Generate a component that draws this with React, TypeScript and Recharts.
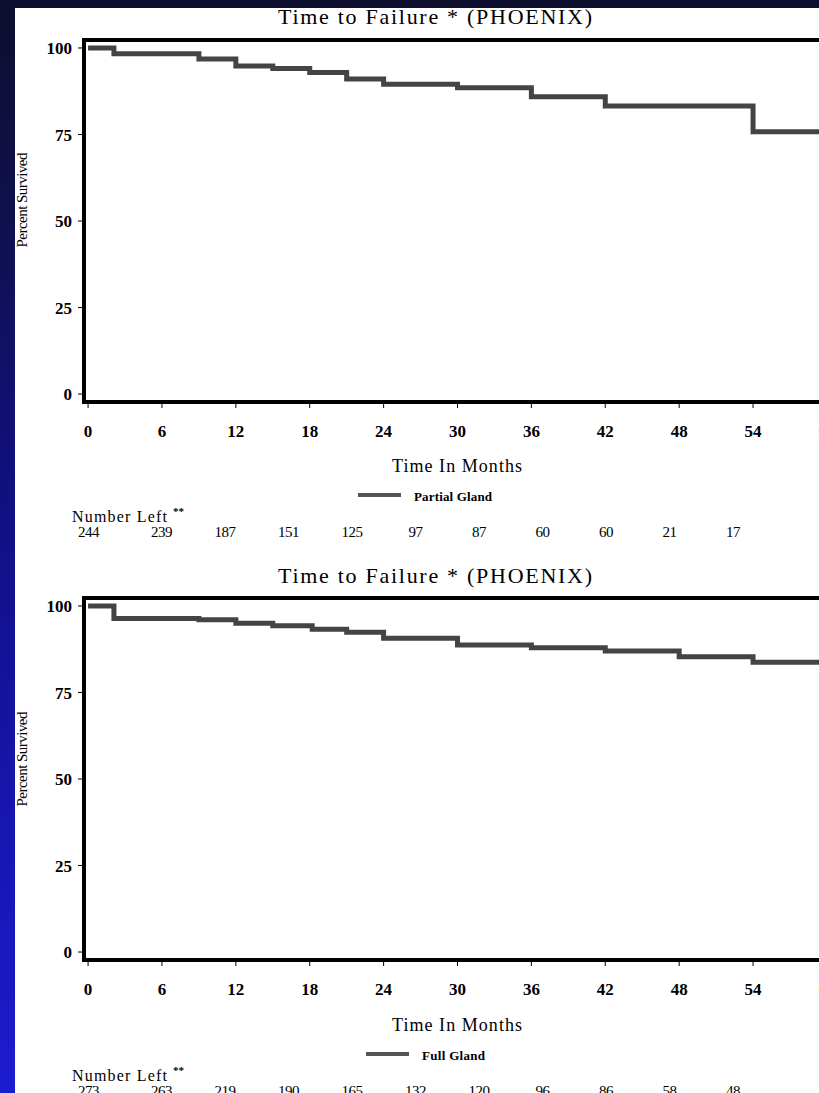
import React from "react";
import { LineChart, Line, XAxis, YAxis, ReferenceArea } from "recharts";

// ---- data ----
const monthTicks = [0, 6, 12, 18, 24, 30, 36, 42, 48, 54, 60];
const pctTicks = [0, 25, 50, 75, 100];

const partialTime = [0, 2.1, 9, 12, 15, 18, 21, 24, 30, 36, 42, 54, 60];
const partialSurv = [100, 98.3, 96.8, 94.8, 94.1, 92.9, 91.0, 89.5, 88.5, 85.9, 83.2, 75.8, 75.8];

const fullTime = [0, 2.1, 9, 12, 15, 18.2, 21, 24, 30, 36, 42, 48, 54, 60];
const fullSurv = [100, 96.4, 96.0, 95.0, 94.3, 93.3, 92.4, 90.7, 88.7, 87.9, 87.0, 85.3, 83.7, 83.7];

const partialLeft = ["244", "239", "187", "151", "125", "97", "87", "60", "60", "21", "17"];
const fullLeft = ["273", "263", "219", "190", "165", "132", "120", "96", "86", "58", "48"];

const title = "Time to Failure * (PHOENIX)";
const xTitle = "Time In Months";
const yTitle = "Percent Survived";

const X_DOMAIN: [number, number] = [-0.33, 60.33];
const Y_DOMAIN: [number, number] = [-2.3, 102.3];

const FONT = "'Liberation Serif', 'Times New Roman', serif";

function KMChart({ times, surv, top }: { times: number[]; surv: number[]; top: number }) {
  const data = times.map((t, i) => ({ t, s: surv[i] }));
  return (
    <div style={{ position: "absolute", left: 0, top }}>
      <LineChart width={845} height={445} data={data} margin={{ top: 40, right: 14, left: 0, bottom: 0 }}>
        <XAxis
          dataKey="t"
          type="number"
          domain={X_DOMAIN}
          ticks={monthTicks}
          allowDataOverflow
          height={43}
          axisLine={{ stroke: "#000", strokeWidth: 4 }}
          tickLine={{ stroke: "#000", strokeWidth: 1 }}
          tickSize={6}
          tickMargin={17}
          tick={{ fill: "#000", fontSize: 17, fontFamily: FONT, fontWeight: "bold" }}
        />
        <YAxis
          type="number"
          domain={Y_DOMAIN}
          ticks={pctTicks}
          allowDataOverflow
          width={84}
          axisLine={{ stroke: "#000", strokeWidth: 4 }}
          tickLine={{ stroke: "#000", strokeWidth: 1 }}
          tickSize={6}
          tickMargin={6}
          tick={{ fill: "#000", fontSize: 17, fontFamily: FONT, fontWeight: "bold" }}
        />
        <ReferenceArea
          x1={X_DOMAIN[0]}
          x2={X_DOMAIN[1]}
          y1={Y_DOMAIN[0]}
          y2={Y_DOMAIN[1]}
          fill="none"
          fillOpacity={0}
          stroke="#000"
          strokeWidth={4}
          ifOverflow="visible"
        />
        <Line
          type="stepAfter"
          dataKey="s"
          stroke="#444"
          strokeWidth={5}
          dot={false}
          activeDot={false}
          isAnimationActive={false}
        />
      </LineChart>
    </div>
  );
}

function Annotations({ dy, legend, legendX, legendTextX, legendW, counts }: {
  dy: number; legend: string; legendX: number; legendTextX: number; legendW: number; counts: string[];
}) {
  return (
    <g fontFamily={FONT} fill="#000">
      <text x={278} y={24 + dy} fontSize={22} textLength={314} lengthAdjust="spacing">{title}</text>
      <text x={392} y={472 + dy} fontSize={18} textLength={130} lengthAdjust="spacing">{xTitle}</text>
      <text
        x={27}
        y={200 + dy}
        fontSize={15}
        textAnchor="middle"
        textLength={95}
        lengthAdjust="spacing"
        transform={`rotate(-90, 27, ${200 + dy})`}
      >
        {yTitle}
      </text>
      <line x1={legendX} x2={legendX + 43} y1={495 + dy} y2={495 + dy} stroke="#555" strokeWidth={4} />
      <text x={legendTextX} y={501 + dy} fontSize={13} fontWeight="bold" textLength={legendW} lengthAdjust="spacing">{legend}</text>
      <text x={72} y={522 + dy} fontSize={16} textLength={95} lengthAdjust="spacing">Number Left</text>
      <text x={173} y={515 + dy} fontSize={11} fontWeight="bold">**</text>
      {counts.map((c, i) => (
        <text
          key={i}
          x={i === 0 ? 78 : 98 + 63.5 * i}
          y={537 + dy}
          fontSize={15}
          textAnchor={i === 0 ? "start" : "middle"}
          letterSpacing={-0.5}
        >
          {c}
        </text>
      ))}
    </g>
  );
}

export default function App() {
  return (
    <div
      style={{
        position: "absolute",
        left: 0,
        top: 0,
        width: 819,
        height: 1093,
        overflow: "hidden",
        background: "linear-gradient(180deg, #0e0e2e 0%, #10104e 20%, #101080 45%, #1616b0 75%, #1c1cd0 100%)",
      }}
    >
      <div style={{ position: "absolute", left: 15, top: 8, width: 900, height: 1200, background: "#fff" }} />
      <KMChart times={partialTime} surv={partialSurv} top={0} />
      <KMChart times={fullTime} surv={fullSurv} top={558} />
      <svg
        width={819}
        height={1093}
        style={{ position: "absolute", left: 0, top: 0, pointerEvents: "none" }}
      >
        <Annotations dy={0} legend="Partial Gland" legendX={358} legendTextX={414} legendW={78} counts={partialLeft} />
        <Annotations dy={559} legend="Full Gland" legendX={366} legendTextX={422} legendW={63} counts={fullLeft} />
      </svg>
    </div>
  );
}
